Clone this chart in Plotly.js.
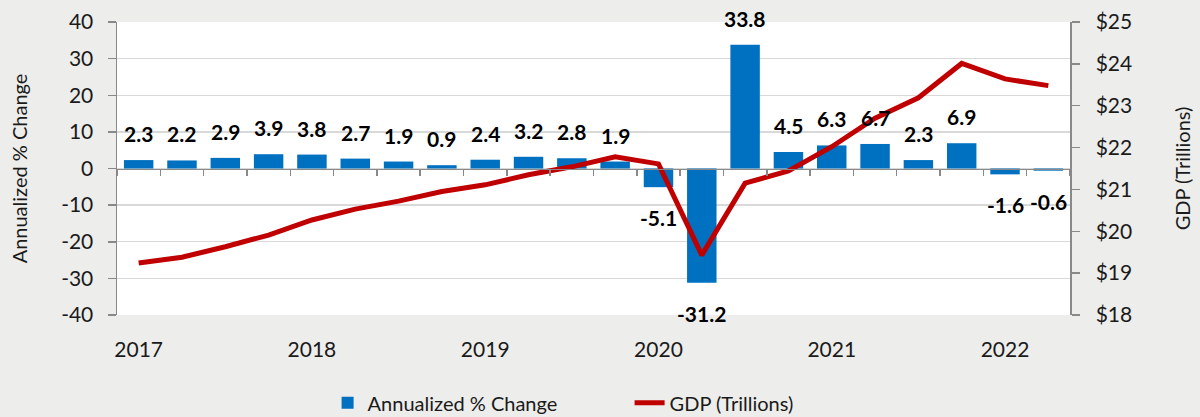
<!DOCTYPE html>
<html>
<head>
<meta charset="utf-8">
<script src="https://cdn.plot.ly/plotly-3.0.1.min.js"></script>
<style>
html,body{margin:0;padding:0;background:#EDEDEB;}
#chart{width:1200px;height:417px;}
</style>
</head>
<body>
<div id="chart"></div>
<script>
var quarters = ['2017 Q1','2017 Q2','2017 Q3','2017 Q4',
  '2018 Q1','2018 Q2','2018 Q3','2018 Q4',
  '2019 Q1','2019 Q2','2019 Q3','2019 Q4',
  '2020 Q1','2020 Q2','2020 Q3','2020 Q4',
  '2021 Q1','2021 Q2','2021 Q3','2021 Q4',
  '2022 Q1','2022 Q2'];
var pctChange = [2.3, 2.2, 2.9, 3.9, 3.8, 2.7, 1.9, 0.9, 2.4, 3.2, 2.8, 1.9,
  -5.1, -31.2, 33.8, 4.5, 6.3, 6.7, 2.3, 6.9, -1.6, -0.6];
var gdpTrillions = [19.24, 19.38, 19.63, 19.91, 20.27, 20.53, 20.72, 20.95,
  21.11, 21.35, 21.54, 21.78, 21.61, 19.43, 21.15, 21.44,
  22.02, 22.70, 23.19, 24.01, 23.64, 23.48];
var yearTickVals = ['2017 Q1','2018 Q1','2019 Q1','2020 Q1','2021 Q1','2022 Q1'];
var yearTickText = ['2017','2018','2019','2020','2021','2022'];
var pctTickVals = [-40, -30, -20, -10, 0, 10, 20, 30, 40];
var pctTickText = ['-40', '-30', '-20', '-10', '0', '10', '20', '30', '40'];
var gdpTickVals = [18, 19, 20, 21, 22, 23, 24, 25];
var gdpTickText = ['$18', '$19', '$20', '$21', '$22', '$23', '$24', '$25'];

var FONT = 'Lato, "Open Sans", sans-serif';
var TXT = '#1a1a1a';
var AXC = '#898989';

var traces = [
  {
    type: 'bar', name: 'Annualized % Change',
    x: quarters, y: pctChange, xaxis: 'x', yaxis: 'y',
    marker: {color: '#0070C0'},
    hoverinfo: 'x+y'
  },
  {
    type: 'scatter', mode: 'lines', name: 'GDP (Trillions)',
    x: quarters, y: gdpTrillions, xaxis: 'x2', yaxis: 'y2',
    line: {color: '#C00000', width: 5}
  }
];

var annotations = pctChange.map(function(v, i){
  return {
    x: quarters[i], y: v, xref: 'x', yref: 'y',
    text: '<b>' + v.toFixed(1) + '</b>',
    showarrow: false,
    yanchor: v >= 0 ? 'bottom' : 'top',
    yshift: v >= 0 ? 12 : -16,
    font: {family: FONT, size: 21, color: '#000'}
  };
});

var layout = {
  width: 1200, height: 417,
  paper_bgcolor: '#EDEDEB', plot_bgcolor: '#FFFFFF',
  margin: {l: 117, r: 130, t: 22, b: 102, autoexpand: false},
  font: {family: FONT, size: 20, color: TXT},
  bargap: 0.32,
  showlegend: true,
  legend: {
    orientation: 'h', xref: 'container', yref: 'container',
    x: 0.273, xanchor: 'left', y: 0.034, yanchor: 'middle',
    font: {family: FONT, size: 20, color: TXT},
    bgcolor: 'rgba(0,0,0,0)', entrywidth: 257, entrywidthmode: 'pixels'
  },
  xaxis: {
    type: 'category', categoryorder: 'array', categoryarray: quarters,
    range: [-0.5, quarters.length - 0.5],
    anchor: 'free', position: 0.5,
    showline: true, linecolor: AXC, linewidth: 1.5,
    ticks: 'outside', tickson: 'boundaries', ticklen: 6, tickcolor: AXC, tickwidth: 1.5,
    showticklabels: false, showgrid: false, zeroline: false, fixedrange: true
  },
  xaxis2: {
    type: 'category', categoryorder: 'array', categoryarray: quarters,
    range: [-0.5, quarters.length - 0.5],
    overlaying: 'x', anchor: 'y2', side: 'bottom',
    showline: false, ticks: '', showgrid: false, zeroline: false,
    tickmode: 'array', tickvals: yearTickVals, ticktext: yearTickText,
    ticklabelstandoff: 20,
    tickfont: {family: FONT, size: 21, color: TXT}
  },
  yaxis: {
    range: [-40, 40],
    tickmode: 'array', tickvals: pctTickVals, ticktext: pctTickText,
    showgrid: true, gridcolor: '#D9D9D9', gridwidth: 1.3,
    zeroline: false,
    showline: true, linecolor: AXC, linewidth: 1.5,
    ticks: 'outside', ticklen: 8, tickcolor: AXC, tickwidth: 1.5,
    ticklabelstandoff: 10,
    tickfont: {family: FONT, size: 21, color: TXT},
    title: {text: 'Annualized % Change', standoff: 28, font: {family: FONT, size: 20, color: TXT}}
  },
  yaxis2: {
    range: [18, 25],
    tickmode: 'array', tickvals: gdpTickVals, ticktext: gdpTickText,
    overlaying: 'y', side: 'right', anchor: 'x2',
    showgrid: false, zeroline: false,
    showline: true, linecolor: AXC, linewidth: 1.5,
    ticks: 'outside', ticklen: 8, tickcolor: AXC, tickwidth: 1.5,
    ticklabelstandoff: 12,
    tickfont: {family: FONT, size: 21, color: TXT},
    title: {text: 'GDP (Trillions)', standoff: 45, font: {family: FONT, size: 20, color: TXT}}
  },
  annotations: annotations
};

Plotly.newPlot('chart', traces, layout, {displayModeBar: false, staticPlot: true});
</script>
</body>
</html>
